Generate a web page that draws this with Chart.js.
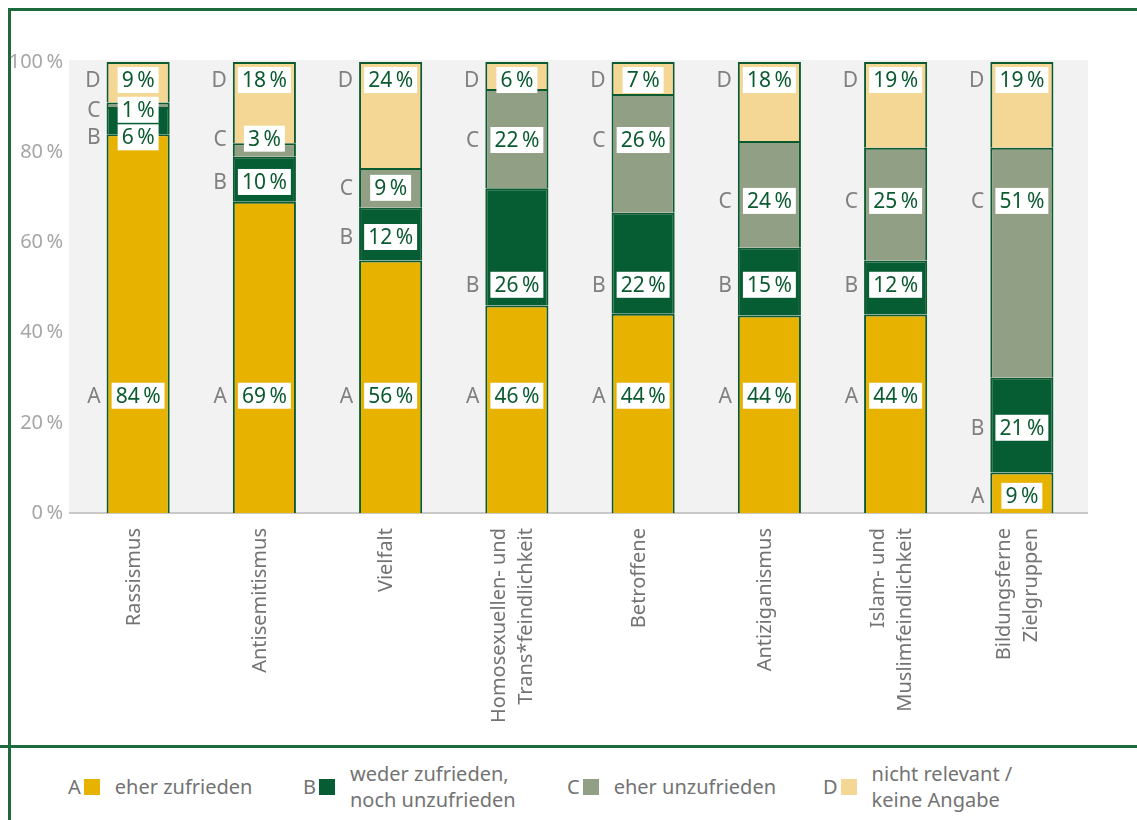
<!DOCTYPE html>
<html lang="de">
<head>
<meta charset="utf-8">
<title>Zufriedenheit nach Themenfeld</title>
<script src="https://cdn.jsdelivr.net/npm/chart.js@4.4.1/dist/chart.umd.min.js"></script>
<style>
  body { margin: 0; background: #fff; font-family: "Noto Sans", sans-serif; }
  #wrap { position: relative; width: 1137px; height: 820px; overflow: hidden; }
  .rule { position: absolute; background: #1d6a3f; }
  #chart { position: absolute; left: 0; top: 0; }
  .legend-item { position: absolute; top: 762px; height: 50px; display: flex; align-items: center;
                 color: #737373; font-size: 20px; line-height: 26px; white-space: nowrap; }
  .legend-item .key { width: 16px; height: 16px; margin: 0 15px 0 3px; flex: none; }
</style>
</head>
<body>
<div id="wrap">
  <canvas id="chart" width="1137" height="746"></canvas>
  <div class="rule" style="left:8px; top:8px; width:1129px; height:3px;"></div>
  <div class="rule" style="left:8px; top:8px; width:3px; height:812px;"></div>
  <div class="rule" style="left:0; top:745px; width:1137px; height:3px;"></div>
  <div id="legend"></div>
</div>
<script>
const categories = [
    'Rassismus',
    'Antisemitismus',
    'Vielfalt',
    ['Homosexuellen- und', 'Trans*feindlichkeit'],
    'Betroffene',
    'Antiziganismus',
    ['Islam- und', 'Muslimfeindlichkeit'],
    ['Bildungsferne', 'Zielgruppen']
];

const seriesKeys = ['A', 'B', 'C', 'D'];
const seriesNames = [
    ['eher zufrieden'],
    ['weder zufrieden,', 'noch unzufrieden'],
    ['eher unzufrieden'],
    ['nicht relevant /', 'keine Angabe']
];
const seriesColors = ['#e8b200', '#075d33', '#919f84', '#f4d794'];

// shares in percent, one value per category
const eherZufrieden   = [84, 69, 56,   46, 44.2, 43.8, 44, 9];
const wederNoch       = [6,  10, 11.7, 26, 22.4, 15,   12, 21];
const eherUnzufrieden = [1,  3,  8.8,  22, 26.3, 23.7, 25, 51];
const nichtRelevant   = [9,  18, 23.5, 6,  7.1,  17.5, 19, 19];

const yTicks = [0, 20, 40, 60, 80, 100];

// height (in %) at which each value box sits, per category, series A..D
const labelLevels = [
    [26,  83.3, 89.4, 96],
    [26,  73.4, 83,   96],
    [26,  61.2, 72.1, 96],
    [26,  50.6, 82.7, 96],
    [26,  50.6, 82.7, 96],
    [26,  50.6, 69.2, 96],
    [26,  50.6, 69.2, 96],
    [3.8, 18.9, 69.2, 96]
];

const seriesValues = [eherZufrieden, wederNoch, eherUnzufrieden, nichtRelevant];
const frameGreen = '#0b5a30';

Chart.defaults.font.family = '"Noto Sans", sans-serif';

// light grey plot panel plus the base line
const plotBackdrop = {
    id: 'plotBackdrop',
    beforeDatasetsDraw: function (chart) {
        var ctx = chart.ctx, a = chart.chartArea;
        ctx.save();
        ctx.fillStyle = '#f2f2f2';
        ctx.fillRect(a.left - 6, a.top - 2, a.right - a.left + 9, a.bottom - a.top + 2);
        ctx.fillStyle = '#c9c9c9';
        ctx.fillRect(a.left - 6, a.bottom - 1, a.right - a.left + 9, 2);
        ctx.restore();
    }
};

// center wrapped category labels on their bar instead of starting at it
const centerWrappedLabels = {
    id: 'centerWrappedLabels',
    beforeDraw: function (chart) {
        var scale = chart.scales.x;
        scale.getLabelItems(chart.chartArea).forEach(function (item) {
            if (item._centered) return;
            var lines = Array.isArray(item.label) ? item.label.length : 1;
            item.options.translation[0] -= 4 + (lines - 1) * 13.5;
            item._centered = true;
        });
    }
};

// white value boxes inside the bars and the series letter left of them
const valueBoxes = {
    id: 'valueBoxes',
    afterDatasetsDraw: function (chart) {
        var ctx = chart.ctx;
        var yScale = chart.scales.y;
        ctx.save();
        ctx.font = '21px "Noto Sans"';
        ctx.textBaseline = 'middle';
        chart.data.datasets.forEach(function (ds, s) {
            chart.getDatasetMeta(s).data.forEach(function (bar, i) {
                var py = yScale.getPixelForValue(labelLevels[i][s]);
                var text = Math.round(ds.data[i]) + '\u2009%';
                var w = ctx.measureText(text).width + 8;
                ctx.fillStyle = '#ffffff';
                ctx.fillRect(bar.x - w / 2, py - 13, w, 26);
                ctx.fillStyle = frameGreen;
                ctx.textAlign = 'center';
                ctx.fillText(text, bar.x, py + 1);
                ctx.fillStyle = '#808080';
                ctx.textAlign = 'right';
                ctx.fillText(seriesKeys[s], bar.x - bar.width / 2 - 6, py + 1);
            });
        });
        ctx.restore();
    }
};

new Chart(document.getElementById('chart'), {
    type: 'bar',
    data: {
        labels: categories,
        datasets: seriesValues.map(function (values, s) {
            return {
                label: seriesNames[s].join(' '),
                data: values,
                backgroundColor: seriesColors[s],
                borderColor: frameGreen,
                borderWidth: 2,
                barPercentage: 0.5,
                categoryPercentage: 1
            };
        })
    },
    options: {
        responsive: false,
        animation: false,
        events: [],
        layout: { padding: { top: 62, right: 52, left: 0, bottom: 0 } },
        plugins: {
            legend: { display: false },
            tooltip: { enabled: false }
        },
        scales: {
            x: {
                stacked: true,
                grid: { display: false, drawTicks: false },
                border: { display: false },
                ticks: {
                    color: '#737373',
                    font: { size: 20, lineHeight: 1.35 },
                    minRotation: 90,
                    maxRotation: 90,
                    padding: 15,
                    autoSkip: false
                },
                afterFit: function (scale) { scale.height = 233; }
            },
            y: {
                stacked: true,
                min: 0,
                max: 100,
                grid: { display: false, drawTicks: false },
                border: { display: false },
                ticks: {
                    color: '#a6a6a6',
                    font: { size: 20 },
                    padding: 12,
                    callback: function (v) { return v + '\u2009%'; }
                },
                afterBuildTicks: function (scale) {
                    scale.ticks = yTicks.map(function (v) { return { value: v }; });
                },
                afterFit: function (scale) { scale.width = 75; }
            }
        }
    },
    plugins: [plotBackdrop, centerWrappedLabels, valueBoxes]
});

// legend below the separator line
const legendLeft = [68, 303, 567, 823];
const legend = document.getElementById('legend');
seriesKeys.forEach(function (key, s) {
    var item = document.createElement('div');
    item.className = 'legend-item';
    item.style.left = legendLeft[s] + 'px';
    item.innerHTML = '<span>' + key + '</span>' +
        '<span class="key" style="background:' + seriesColors[s] + '"></span>' +
        '<span>' + seriesNames[s].join('<br>') + '</span>';
    legend.appendChild(item);
});
</script>
</body>
</html>
